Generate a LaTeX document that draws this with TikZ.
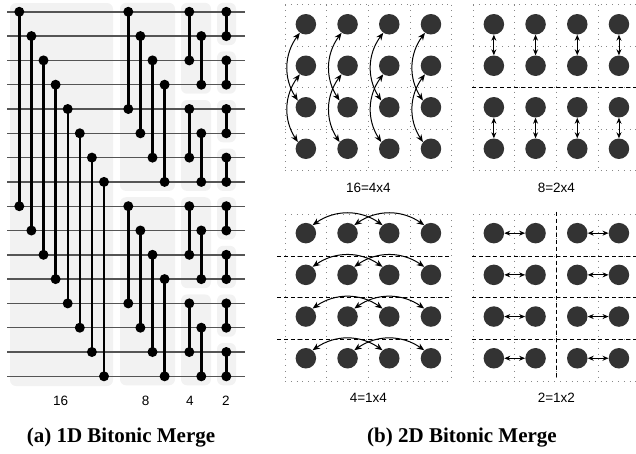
\documentclass[tikz,border=0pt]{standalone}
\usepackage{fontspec}
\setmainfont{Liberation Serif}
\newfontfamily\lsans{Liberation Sans}
\usetikzlibrary{arrows.meta}
\definecolor{boxgray}{HTML}{F2F2F2}
\definecolor{linegray}{HTML}{555555}
\definecolor{pegray}{HTML}{333333}
\definecolor{griddot}{HTML}{888888}
\newcommand\pegrid[5]{% name, x0, y0, h, yoff
  \foreach \k in {0,...,4} {
    \draw[celldot] ({#2+41.7*\k},{#3}) -- ({#2+41.7*\k},{#3+4*#4});
    \draw[celldot] ({#2},{#3+#4*\k}) -- ({#2+4*41.7},{#3+#4*\k});
  }
  \foreach \r in {0,...,3} \foreach \c in {0,...,3} {
    \node[pe] (#1-\r-\c) at ({#2+41.7*(\c+0.5)},{#3+#4*(\r+0.5)+#5}) {};
  }
}
\begin{document}
\begin{tikzpicture}[x=1pt,y=-1pt,
  bgbox/.style={fill=boxgray, rounded corners=6pt, draw=none},
  hline/.style={draw=linegray, line width=1.4pt},
  conn/.style={draw=black, line width=2.4pt},
  dot/.style={circle, fill=black, inner sep=0pt, minimum size=10pt},
  pe/.style={circle, fill=pegray, inner sep=0pt, minimum size=20.5pt},
  celldot/.style={draw=griddot, line width=0.7pt, dash pattern=on 0.8pt off 5pt},
  sep/.style={draw=black, line width=0.9pt, dash pattern=on 4pt off 3pt},
  dbl/.style={{Stealth[length=6pt,width=5pt]}-{Stealth[length=6pt,width=5pt]}, line width=0.9pt},
  cdbl/.style={{Stealth[length=7.5pt,width=6pt]}-{Stealth[length=7.5pt,width=6pt]}, line width=1pt},
  numlbl/.style={font=\lsans\fontsize{13.5}{13.5}\selectfont, anchor=base},
  caplbl/.style={font=\bfseries\fontsize{21}{21}\selectfont, anchor=base}
]
\clip (0,0) rectangle (636,453);
% ---------- (a) 1D bitonic merge ----------
\fill[bgbox] (10,3) rectangle (113,386);
\foreach \h in {0,8} {
  \fill[bgbox] (120,{11.8+24.3*\h-9}) rectangle (175,{11.8+24.3*(\h+7)+9});
}
\foreach \q in {0,4,8,12} {
  \fill[bgbox] (181,{11.8+24.3*\q-9}) rectangle (211,{11.8+24.3*(\q+3)+9});
}
\foreach \p in {0,2,...,14} {
  \fill[bgbox] (217,{11.8+24.3*\p-9}) rectangle (236,{11.8+24.3*(\p+1)+9});
}
\foreach \i in {0,...,15} {
  \coordinate (La\i) at (7,{11.8+24.3*\i});
  \coordinate (Lb\i) at (245,{11.8+24.3*\i});
  \draw[hline] (La\i) -- (Lb\i);
}
% stage 16
\foreach \i in {0,...,7} {
  \pgfmathtruncatemacro\j{\i+8}
  \node[dot] (s16t\i) at ({19.3+12.1*\i},{11.8+24.3*\i}) {};
  \node[dot] (s16b\i) at ({19.3+12.1*\i},{11.8+24.3*\j}) {};
  \draw[conn] (s16t\i.center) -- (s16b\i.center);
}
% stage 8
\foreach \h in {0,8} \foreach \k in {0,...,3} {
  \pgfmathtruncatemacro\a{\h+\k}
  \pgfmathtruncatemacro\b{\h+\k+4}
  \node[dot] (s8t\a) at ({128.3+12.1*\k},{11.8+24.3*\a}) {};
  \node[dot] (s8b\a) at ({128.3+12.1*\k},{11.8+24.3*\b}) {};
  \draw[conn] (s8t\a.center) -- (s8b\a.center);
}
% stage 4
\foreach \q in {0,4,8,12} \foreach \k in {0,1} {
  \pgfmathtruncatemacro\a{\q+\k}
  \pgfmathtruncatemacro\b{\q+\k+2}
  \node[dot] (s4t\a) at ({189.3+12*\k},{11.8+24.3*\a}) {};
  \node[dot] (s4b\a) at ({189.3+12*\k},{11.8+24.3*\b}) {};
  \draw[conn] (s4t\a.center) -- (s4b\a.center);
}
% stage 2
\foreach \p in {0,2,...,14} {
  \pgfmathtruncatemacro\b{\p+1}
  \node[dot] (s2t\p) at (226.3,{11.8+24.3*\p}) {};
  \node[dot] (s2b\p) at (226.3,{11.8+24.3*\b}) {};
  \draw[conn] (s2t\p.center) -- (s2b\p.center);
}
\node[numlbl] (l16) at (60.7,405) {16};
\node[numlbl] (l8) at (145.7,405) {8};
\node[numlbl] (l4) at (190,405) {4};
\node[numlbl] (l2) at (226,405) {2};
\node[caplbl] (capa) at (121,442.5) {(a) 1D Bitonic Merge};
% ---------- (b) 2D bitonic merge ----------
\pegrid{P16}{285}{4.5}{41.5}{-1}
\pegrid{P8}{473}{4.5}{41.5}{-1}
\pegrid{P4}{285}{214.3}{41.7}{-2}
\pegrid{P2}{473}{214.3}{41.7}{-2}
% separators
\draw[sep] (472,{4.5+2*41.5}) -- (640,{4.5+2*41.5});
\foreach \k in {1,2,3} {
  \draw[sep] (277,{214.3+41.7*\k}) -- (451.8,{214.3+41.7*\k});
  \draw[sep] (472,{214.3+41.7*\k}) -- (640,{214.3+41.7*\k});
}
\draw[sep] (556.4,211.5) -- (556.4,378.5);
% arrows
\foreach \c in {0,...,3} {
  \draw[cdbl] (P16-0-\c.235) to[bend right=35] (P16-2-\c.140);
  \draw[cdbl] (P16-1-\c.235) to[bend right=35] (P16-3-\c.140);
  \draw[dbl] (P8-0-\c) -- (P8-1-\c);
  \draw[dbl] (P8-2-\c) -- (P8-3-\c);
  \draw[cdbl] (P4-\c-0.50) to[bend left=35] (P4-\c-2.130);
  \draw[cdbl] (P4-\c-1.50) to[bend left=35] (P4-\c-3.130);
  \draw[dbl] (P2-\c-0) -- (P2-\c-1);
  \draw[dbl] (P2-\c-2) -- (P2-\c-3);
}
\node[numlbl] (t16) at (368.4,192.7) {16=4x4};
\node[numlbl] (t8) at (556.4,192) {8=2x4};
\node[numlbl] (t4) at (368.4,402) {4=1x4};
\node[numlbl] (t2) at (556.4,402) {2=1x2};
\node[caplbl] (capb) at (462,442.5) {(b) 2D Bitonic Merge};
\end{tikzpicture}
\end{document}
